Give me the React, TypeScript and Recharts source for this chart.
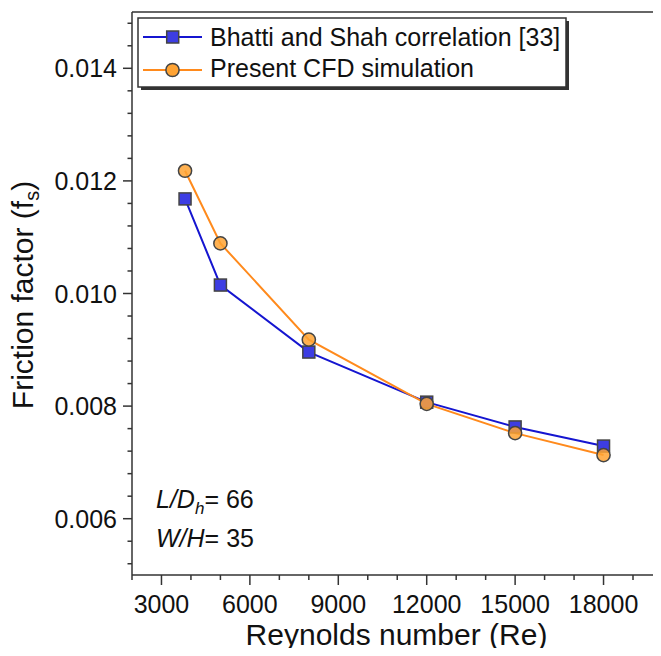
import React from 'react';
import { LineChart, Line, XAxis, YAxis, ReferenceLine, Customized } from 'recharts';

const reynolds = [3800, 5000, 8000, 12000, 15000, 18000];
const bhattiShah = [0.01168, 0.01015, 0.00896, 0.00807, 0.00763, 0.00729];
const cfdSim = [0.01218, 0.01089, 0.00918, 0.00804, 0.00752, 0.00713];

const seriesNames = ['Bhatti and Shah correlation [33]', 'Present CFD simulation'];

const majorXTicks = [3000, 6000, 9000, 12000, 15000, 18000];
const minorXTicks = [2000, 4000, 5000, 7000, 8000, 10000, 11000, 13000, 14000, 16000, 17000, 19000];
const majorYTicks = [0.006, 0.008, 0.01, 0.012, 0.014];
const minorYTicks = [0.0052, 0.0056, 0.0064, 0.0068, 0.0072, 0.0076, 0.0084, 0.0088, 0.0092, 0.0096, 0.0104, 0.0108, 0.0112, 0.0116, 0.0124, 0.0128, 0.0132, 0.0136, 0.0144, 0.0148];

const data = reynolds.map((re, i) => ({ re, bhatti: bhattiShah[i], cfd: cfdSim[i] }));

const FONT = 'Liberation Sans, Arial, Helvetica, sans-serif';
const AXIS = '#333';
const BLUE_LINE = '#1515d0';
const BLUE_FILL = '#3d3de3';
const ORANGE_LINE = '#ff8a1c';
const ORANGE_FILL = '#ffa333';
const MARK_STROKE = '#444';

const isMajor = (arr: number[], v: number) => arr.some((m) => Math.abs(m - v) < 1e-9);

const XTick = (props: any) => {
  const { x, y, payload } = props;
  const major = isMajor(majorXTicks, payload.value);
  return (
    <g>
      <line x1={x} x2={x} y1={y} y2={y + (major ? 10 : 5)} stroke={AXIS} strokeWidth={1.5} />
      {major && (
        <text x={x} y={y + 38} textAnchor="middle" fontSize={25} fontFamily={FONT} fill="#111">
          {payload.value}
        </text>
      )}
    </g>
  );
};

const YTick = (props: any) => {
  const { x, y, payload } = props;
  const major = isMajor(majorYTicks, payload.value);
  return (
    <g>
      <line x1={x} x2={x - (major ? 9 : 4.5)} y1={y} y2={y} stroke={AXIS} strokeWidth={1.5} />
      {major && (
        <text x={x - 15} y={y + 9} textAnchor="end" fontSize={25} fontFamily={FONT} fill="#111">
          {payload.value.toFixed(3)}
        </text>
      )}
    </g>
  );
};

const SquareDot = (props: any) => {
  const { cx, cy, index } = props;
  return (
    <rect key={`sq-${index}`} x={cx - 6} y={cy - 6} width={12} height={12} fill={BLUE_FILL} stroke={MARK_STROKE} strokeWidth={1.5} />
  );
};

const CircleDot = (props: any) => {
  const { cx, cy, index } = props;
  return (
    <circle key={`ci-${index}`} cx={cx} cy={cy} r={6.6} fill={ORANGE_FILL} fillOpacity={0.85} stroke={MARK_STROKE} strokeWidth={1.5} />
  );
};

const Overlay = () => (
  <g fontFamily={FONT}>
    {/* legend */}
    <rect x={133} y={13} width={428} height={69} fill="#333" />
    <rect x={130} y={10} width={428} height={69} fill="#fff" stroke={AXIS} strokeWidth={1.5} />
    <line x1={135} x2={194} y1={29} y2={29} stroke={BLUE_LINE} strokeWidth={2} />
    <rect x={158.7} y={23} width={12} height={12} fill={BLUE_FILL} stroke={MARK_STROKE} strokeWidth={1.5} />
    <text x={202} y={37.7} fontSize={25} fill="#111">{seriesNames[0]}</text>
    <line x1={135} x2={194} y1={62} y2={62} stroke={ORANGE_LINE} strokeWidth={2} />
    <circle cx={164.5} cy={62} r={6.6} fill={ORANGE_FILL} stroke={MARK_STROKE} strokeWidth={1.5} />
    <text x={202} y={69} fontSize={25} fill="#111">{seriesNames[1]}</text>
    {/* annotations */}
    <text x={148} y={500} fontSize={25} fill="#111">
      <tspan fontStyle="italic">L/D</tspan>
      <tspan fontStyle="italic" fontSize={17} dy={6}>h</tspan>
      <tspan dy={-6}>= 66</tspan>
    </text>
    <text x={148} y={539} fontSize={25} fill="#111">
      <tspan fontStyle="italic">W/H</tspan>
      <tspan>= 35</tspan>
    </text>
  </g>
);

const XLabel = (props: any) => {
  const vb = props.viewBox || {};
  return (
    <text x={vb.x + vb.width / 2} y={vb.y + 70} textAnchor="middle" fontSize={30} fontFamily={FONT} fill="#111">
      Reynolds number (Re)
    </text>
  );
};

const YLabel = () => {
  const cy = 287;
  const cx = 25;
  return (
    <text x={cx} y={cy} transform={`rotate(-90 ${cx} ${cy})`} textAnchor="middle" fontSize={30} fontFamily={FONT} fill="#111">
      Friction factor (f<tspan fontSize={20} dy={6}>s</tspan><tspan dy={-6}>)</tspan>
    </text>
  );
};

export default function App() {
  return (
    <div style={{ width: 653, height: 648, marginBottom: -8, overflow: 'hidden', background: '#fff' }}>
      <LineChart width={653} height={648} data={data} margin={{ top: 4, right: 0, left: 0, bottom: 8 }}>
        <XAxis
          type="number"
          dataKey="re"
          domain={[2000, 19950]}
          allowDataOverflow
          ticks={[...majorXTicks, ...minorXTicks].sort((a, b) => a - b)}
          interval={0}
          tick={<XTick />}
          tickLine={false}
          tickSize={0}
          tickMargin={0}
          height={73}
          axisLine={{ stroke: AXIS, strokeWidth: 1.5 }}
          label={<XLabel />}
        />
        <YAxis
          type="number"
          domain={[0.005, 0.015]}
          allowDataOverflow
          ticks={[...majorYTicks, ...minorYTicks].sort((a, b) => a - b)}
          interval={0}
          tick={<YTick />}
          tickLine={false}
          tickSize={0}
          tickMargin={0}
          width={124}
          axisLine={{ stroke: AXIS, strokeWidth: 1.5 }}
          label={<YLabel />}
        />
        <ReferenceLine y={0.015} stroke={AXIS} strokeWidth={1.5} />
        <Line
          type="linear"
          dataKey="bhatti"
          stroke={BLUE_LINE}
          strokeWidth={2}
          dot={<SquareDot />}
          isAnimationActive={false}
        />
        <Line
          type="linear"
          dataKey="cfd"
          stroke={ORANGE_LINE}
          strokeWidth={2}
          dot={<CircleDot />}
          isAnimationActive={false}
        />
        <Customized component={Overlay} />
      </LineChart>
    </div>
  );
}
